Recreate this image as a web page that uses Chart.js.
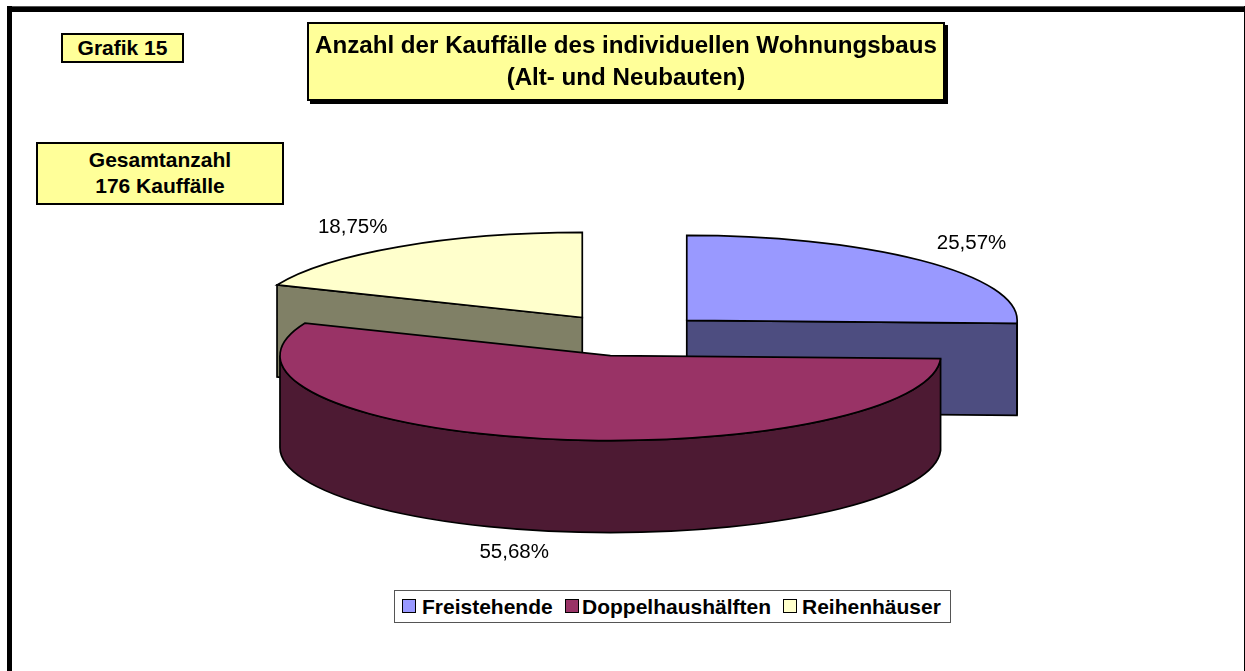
<!DOCTYPE html>
<html lang="de">
<head>
<meta charset="utf-8">
<title>Grafik 15</title>
<script src="https://cdn.jsdelivr.net/npm/chart.js@4"></script>
<style>
html,body{margin:0;padding:0;background:#fff;width:1245px;height:671px;overflow:hidden}
body{position:relative;font-family:"Liberation Sans",Arial,sans-serif;color:#000}
canvas{position:absolute;left:0;top:0}
#frameTop{position:absolute;left:7px;top:6px;width:1238px;background:#000;border-top:1px solid #555;box-sizing:border-box;height:6px}
#frameLeft{position:absolute;left:7px;top:6px;width:5px;height:665px;background:#000}
#frameRight{position:absolute;left:1244px;top:6px;width:1px;height:665px;background:#000}
.box{position:absolute;background:#ffff99;border:2px solid #000;box-sizing:border-box;text-align:center;font-weight:bold;display:flex;align-items:center;justify-content:center}
#grafik{left:61px;top:33px;width:123px;height:30px;font-size:21px}
#gesamt{left:36px;top:142px;width:248px;height:63px;font-size:21px;line-height:26px;padding-bottom:2px}
#title{left:307px;top:22px;width:638px;height:79px;font-size:24.15px;line-height:32px;box-shadow:3px 3px 0 #000;padding-bottom:1px}
#title div{white-space:nowrap}
#legend{position:absolute;left:394px;top:590px;width:557px;height:33px;border:1px solid #555;box-sizing:border-box;background:#fff;font-weight:bold;font-size:21px}
#legend span{position:absolute;white-space:nowrap;line-height:31px;top:0}
#legend i{position:absolute;top:8px;width:14px;height:14px;border:1.5px solid #000;box-sizing:border-box}
</style>
</head>
<body>
<canvas id="c" width="1245" height="671"></canvas>
<div id="frameTop"></div><div id="frameLeft"></div><div id="frameRight"></div>
<div class="box" id="grafik">Grafik 15</div>
<div class="box" id="title"><div>Anzahl der Kauffälle des individuellen Wohnungsbaus<br>(Alt- und Neubauten)</div></div>
<div class="box" id="gesamt"><div>Gesamtanzahl<br>176 Kauffälle</div></div>
<div id="legend"></div>
<script>
const categories = ["Freistehende", "Doppelhaushälften", "Reihenhäuser"];
const purchases = [45, 98, 33];
const topColors = ["#9999ff", "#993366", "#ffffcc"];
const sideColors = ["#4d4d80", "#4d1a33", "#808066"];

const view = {cx: 627.8, cy: 335, rx: 330.4, ry: 85, depth: 92, explode: 0.248, line: 1.7};
const labelNudges = [[47, -18], [-26, 22], [-46, -19]];
const legendSwatchX = [7, 170, 388];
const legendTextX = [27, 187, 407];

const total = purchases.reduce((a, b) => a + b, 0);
const legendEl = document.getElementById("legend");
categories.forEach((name, i) => {
  const sw = document.createElement("i");
  sw.style.left = legendSwatchX[i] + "px";
  sw.style.background = topColors[i];
  const tx = document.createElement("span");
  tx.style.left = legendTextX[i] + "px";
  tx.textContent = name;
  legendEl.append(sw, tx);
});

function sliceGeometry(arc) {
  const mid = (arc.startAngle + arc.endAngle) / 2;
  return {
    x: view.cx + Math.cos(mid) * view.explode * view.rx,
    y: view.cy + Math.sin(mid) * view.explode * view.ry,
    start: arc.startAngle, end: arc.endAngle, mid
  };
}
function edge(g, a) {
  return [g.x + view.rx * Math.cos(a), g.y + view.ry * Math.sin(a)];
}
function paintFace(ctx, fill) {
  ctx.closePath();
  ctx.fillStyle = fill;
  ctx.fill();
  ctx.lineWidth = view.line;
  ctx.strokeStyle = "#000";
  ctx.stroke();
}
function drawRim(ctx, g, fill) {
  // the front half of the ellipse is every canvas angle congruent to 0..PI
  for (let k = -1; k <= 1; k++) {
    const a0 = Math.max(g.start, 2 * Math.PI * k);
    const a1 = Math.min(g.end, 2 * Math.PI * k + Math.PI);
    if (a1 <= a0) continue;
    ctx.beginPath();
    ctx.ellipse(g.x, g.y, view.rx, view.ry, 0, a0, a1);
    ctx.ellipse(g.x, g.y + view.depth, view.rx, view.ry, 0, a1, a0, true);
    paintFace(ctx, fill);
  }
}
function drawRadial(ctx, g, a, fill) {
  const p = edge(g, a);
  ctx.beginPath();
  ctx.moveTo(g.x, g.y);
  ctx.lineTo(p[0], p[1]);
  ctx.lineTo(p[0], p[1] + view.depth);
  ctx.lineTo(g.x, g.y + view.depth);
  paintFace(ctx, fill);
}

const pie3d = {
  id: "pie3d",
  beforeDatasetsDraw(chart) {
    const ctx = chart.ctx;
    const arcs = chart.getDatasetMeta(0).data;
    const order = arcs.map((arc, i) => ({i, g: sliceGeometry(arc)})).sort((a, b) => a.g.y - b.g.y);
    order.forEach(({i, g}) => {
      if (Math.sin(g.start - Math.PI / 2) > 1e-6) drawRadial(ctx, g, g.start, sideColors[i]);
      if (Math.sin(g.end + Math.PI / 2) > 1e-6) drawRadial(ctx, g, g.end, sideColors[i]);
      drawRim(ctx, g, sideColors[i]);
    });
    // the library's own arcs are painted through the tilt of the pie, each pulled out of the centre
    arcs.forEach(arc => {
      const g = sliceGeometry(arc);
      ctx.save();
      ctx.translate(g.x, g.y);
      ctx.scale(view.rx / arc.outerRadius, view.ry / arc.outerRadius);
      ctx.translate(-arc.x, -arc.y);
      arc.draw(ctx);
      ctx.restore();
    });
  },
  beforeDatasetDraw() {
    return false;
  },
  afterDatasetsDraw(chart) {
    const ctx = chart.ctx;
    chart.getDatasetMeta(0).data.forEach((arc, i) => {
      const g = sliceGeometry(arc);
      ctx.beginPath();
      ctx.moveTo(g.x, g.y);
      ctx.ellipse(g.x, g.y, view.rx, view.ry, 0, g.start, g.end);
      ctx.closePath();
      ctx.lineWidth = view.line;
      ctx.strokeStyle = "#000";
      ctx.stroke();

      const p = edge(g, g.mid);
      const front = Math.sin(g.mid) > 0 ? view.depth : 0;
      const text = (purchases[i] / total * 100).toFixed(2).replace(".", ",") + "%";
      ctx.font = '20.5px "Liberation Sans", Arial, sans-serif';
      ctx.fillStyle = "#000";
      ctx.textAlign = "center";
      ctx.textBaseline = "middle";
      ctx.fillText(text, p[0] + labelNudges[i][0], p[1] + front + labelNudges[i][1]);
    });
  }
};

new Chart(document.getElementById("c"), {
  type: "pie",
  data: {
    labels: categories,
    datasets: [{
      data: purchases,
      backgroundColor: topColors,
      borderWidth: 0,
      clip: false
    }]
  },
  options: {
    responsive: false,
    animation: false,
    rotation: 0,
    layout: {padding: 0},
    plugins: {legend: {display: false}, title: {display: false}, tooltip: {enabled: false}}
  },
  plugins: [pie3d]
});
</script>
</body>
</html>
